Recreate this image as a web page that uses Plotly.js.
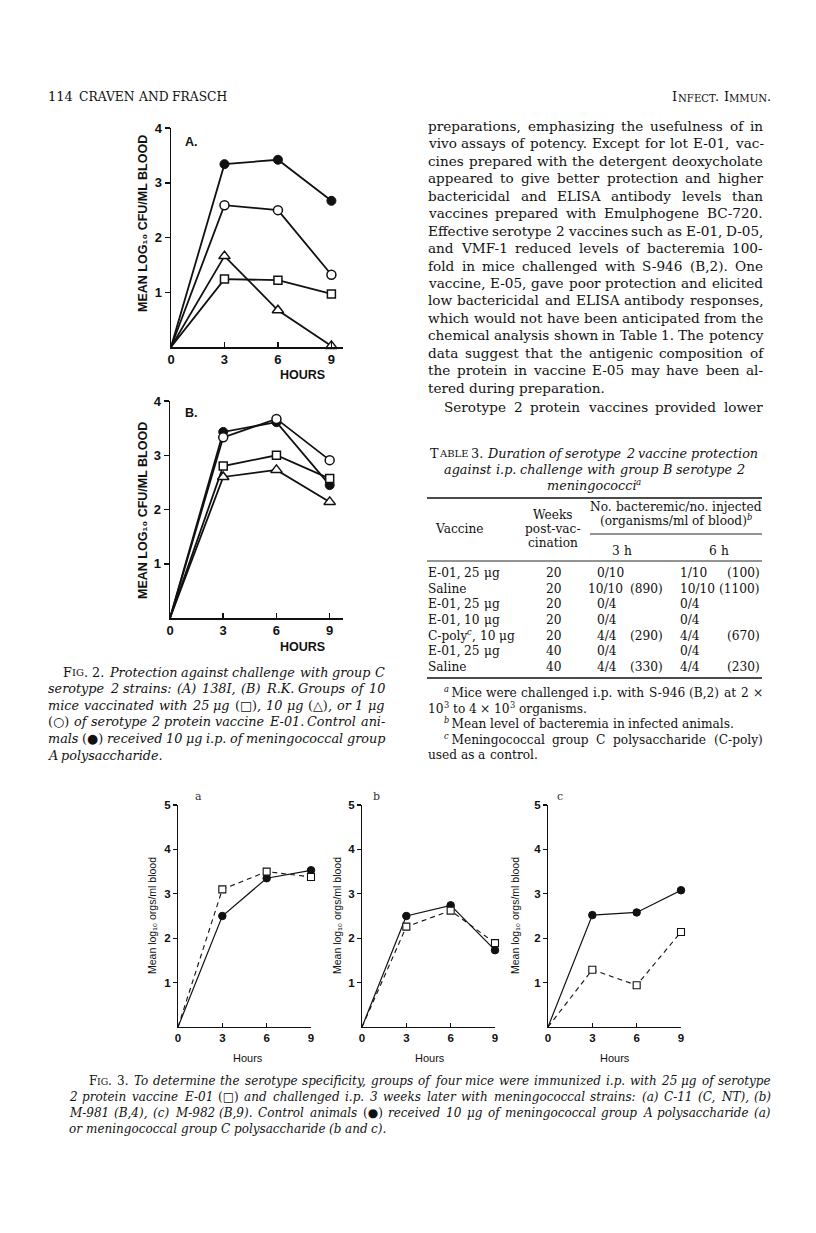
<!DOCTYPE html>
<html><head><meta charset="utf-8">
<script src="https://cdn.plot.ly/plotly-3.0.1.min.js"></script>
<style>html,body{margin:0;padding:0;background:#fff}#page{width:816px;height:1233px}</style>
</head><body><div id="page"></div>
<script>
// ---------------- DATA ----------------
const hours = [0, 3, 6, 9];
const hourTicks = [0, 3, 6, 9];
const fig2yTicks = [1, 2, 3, 4];
const fig3yTicks = [1, 2, 3, 4, 5];

// Fig. 2A (strain 138I)
const fig2aControl = [0, 3.34, 3.42, 2.67];
const fig2a1ug = [0, 2.59, 2.50, 1.32];
const fig2a10ug = [0, 1.66, 0.67, 0.02];
const fig2a25ug = [0, 1.24, 1.22, 0.97];
// Fig. 2B (strain R.K.)
const fig2bControl = [0, 3.43, 3.61, 2.45];
const fig2b1ug = [0, 3.33, 3.67, 2.91];
const fig2b10ug = [0, 2.60, 2.73, 2.14];
const fig2b25ug = [0, 2.80, 3.00, 2.57];
// Fig. 3
const fig3aControl = [0, 2.50, 3.35, 3.53];
const fig3aVaccine = [0, 3.10, 3.50, 3.38];
const fig3bControl = [0, 2.50, 2.74, 1.73];
const fig3bVaccine = [0, 2.26, 2.62, 1.89];
const fig3cControl = [0, 2.52, 2.58, 3.08];
const fig3cVaccine = [0, 1.29, 0.94, 2.14];

// Table 3
const tblVaccine = ["E-01, 25 μg", "Saline", "E-01, 25 μg", "E-01, 10 μg", "C-poly`{c}`, 10 μg", "E-01, 25 μg", "Saline"];
const tblWeeks = ["20", "20", "20", "20", "20", "40", "40"];
const tbl3hCount = ["0/10", "10/10", "0/4", "0/4", "4/4", "0/4", "4/4"];
const tbl3hLevel = ["", "(890)", "", "", "(290)", "", "(330)"];
const tbl6hCount = ["1/10", "10/10", "0/4", "0/4", "4/4", "0/4", "4/4"];
const tbl6hLevel = ["(100)", "(1100)", "", "", "(670)", "", "(230)"];

// Text
const bodyLines = [
  "preparations, emphasizing the usefulness of in",
  "vivo assays of potency. Except for lot E-01, vac-",
  "cines prepared with the detergent deoxycholate",
  "appeared to give better protection and higher",
  "bactericidal and ELISA antibody levels than",
  "vaccines prepared with Emulphogene BC-720.",
  "Effective serotype 2 vaccines such as E-01, D-05,",
  "and VMF-1 reduced levels of bacteremia 100-",
  "fold in mice challenged with S-946 (B,2). One",
  "vaccine, E-05, gave poor protection and elicited",
  "low bactericidal and ELISA antibody responses,",
  "which would not have been anticipated from the",
  "chemical analysis shown in Table 1. The potency",
  "data suggest that the antigenic composition of",
  "the protein in vaccine E-05 may have been al-",
  "tered during preparation."
];
const bodyNext = "Serotype 2 protein vaccines provided lower";

const fig2Caption = [
  "{F[IG]. 2.} Protection against challenge with group C",
  "serotype 2 strains: (A) 138I, (B) R.K. Groups of 10",
  "mice vaccinated with 25 μg {(□)}, 10 μg {(△)}, or 1 μg",
  "{(○)} of serotype 2 protein vaccine E-01. Control ani-",
  "mals {(●)} received 10 μg i.p. of meningococcal group",
  "A polysaccharide."
];
const fig3Caption = [
  "{F[IG]. 3.} To determine the serotype specificity, groups of four mice were immunized i.p. with 25 μg of serotype",
  "2 protein vaccine E-01 {(□)} and challenged i.p. 3 weeks later with meningococcal strains: (a) C-11 (C, NT), (b)",
  "M-981 (B,4), (c) M-982 (B,9). Control animals {(●)} received 10 μg of meningococcal group A polysaccharide (a)",
  "or meningococcal group C polysaccharide (b and c)."
];
const tableTitle = [
  "{T[ABLE] 3.} Duration of serotype 2 vaccine protection",
  "against i.p. challenge with group B serotype 2",
  "meningococci`a`"
];
const tableNotes = [
  "`{a}`\u2009Mice were challenged i.p. with S-946 (B,2) at 2 ×",
  "10`3` to 4 × 10`3` organisms.",
  "`{b}`\u2009Mean level of bacteremia in infected animals.",
  "`{c}`\u2009Meningococcal group C polysaccharide (C-poly)",
  "used as a control."
];

// ---------------- HELPERS ----------------
const W = 816, H = 1233;
const px = x => x / W, py = y => 1 - y / H;
const SERIF = "DejaVu Serif";
const SANS = "Liberation Sans, Arial, sans-serif";
const INK = "#111";
const canvas = document.createElement('canvas');
const ctx = canvas.getContext('2d');
function meas(t, f) { ctx.font = f; return ctx.measureText(t).width; }
function fontStr(it, size) { return (it ? 'italic ' : '') + size.toFixed(2) + 'px "' + SERIF + '"'; }

const annotations = [];
const shapes = [];

// mini markup: {..} opposite style, [..] small caps, `..` superscript
function parseLine(str, baseItalic) {
  const words = []; let cur = []; let seg = null;
  let opp = false, small = false, sup = false;
  const flush = () => { if (seg && seg.t.length) cur.push(seg); seg = null; };
  for (const ch of str) {
    if (ch === '{') { flush(); opp = true; continue; }
    if (ch === '}') { flush(); opp = false; continue; }
    if (ch === '[') { flush(); small = true; continue; }
    if (ch === ']') { flush(); small = false; continue; }
    if (ch === '`') { flush(); sup = !sup; continue; }
    if (ch === ' ') { flush(); if (cur.length) words.push(cur); cur = []; continue; }
    if (!seg) seg = { t: '', it: baseItalic !== opp, small, sup };
    seg.t += ch;
  }
  flush(); if (cur.length) words.push(cur);
  return words;
}
const segSize = (g, size) => g.sup ? size * 0.68 : (g.small ? size * 0.78 : size);
const segWidth = (g, size) => meas(g.t, fontStr(g.it, segSize(g, size)));
function wordWidth(w, size) { return w.reduce((s, g) => s + segWidth(g, size), 0); }
function pushSeg(g, x, y, size) {
  const s = segSize(g, size);
  let ys = -0.35 * (size - s);
  if (g.sup) ys += 0.42 * size;
  annotations.push({ xref: 'paper', yref: 'paper', x: px(x), y: py(y), xanchor: 'left', yanchor: 'middle', yshift: ys,
    showarrow: false, borderpad: 0, text: g.t,
    font: { family: SERIF, size: s, color: INK, style: g.it ? 'italic' : 'normal' } });
}
function renderLine(str, o) {
  const words = parseLine(str, o.italic);
  const ws = words.map(w => wordWidth(w, o.size));
  const tot = ws.reduce((a, b) => a + b, 0);
  const sp = meas(' ', fontStr(o.italic, o.size));
  let gap = sp, x;
  const full = tot + sp * (words.length - 1);
  if (o.align === 'justify' && words.length > 1) { gap = (o.right - o.left - tot) / (words.length - 1); x = o.left; }
  else if (o.align === 'center') x = o.center - full / 2;
  else if (o.align === 'right') x = o.right - full;
  else x = o.left;
  words.forEach((w, i) => {
    let xx = x;
    w.forEach(g => { pushSeg(g, xx, o.y, o.size); xx += segWidth(g, o.size); });
    x += ws[i] + gap;
  });
}
function fitSize(specs, base, italic) {
  let r = 1;
  specs.forEach(s => {
    if (s.align !== 'justify') return;
    const words = parseLine(s.t, italic);
    const tot = words.reduce((a, w) => a + wordWidth(w, base), 0);
    const need = tot + 0.22 * base * (words.length - 1);
    r = Math.max(r, need / (s.right - s.left));
  });
  return base / r;
}
function paragraph(lines, o) {
  const specs = lines.map((t, i) => ({
    t, left: o.left + (i === 0 ? (o.indent || 0) : 0), right: o.right,
    align: (i === lines.length - 1 && !o.justifyLast) ? 'left' : 'justify', y: o.y0 + o.dy * i
  }));
  const size = fitSize(specs, o.size, o.italic);
  specs.forEach(s => renderLine(s.t, { left: s.left, right: s.right, y: s.y, size, italic: o.italic, align: s.align }));
}
function ann(x, y, text, opt) {
  return Object.assign({ xref: 'paper', yref: 'paper', x: px(x), y: py(y), text, showarrow: false,
    xanchor: 'center', yanchor: 'middle', font: { family: SANS, size: 12, color: INK } }, opt || {});
}
function hline(x0, x1, y, w) {
  shapes.push({ type: 'line', xref: 'paper', yref: 'paper', x0: px(x0), x1: px(x1), y0: py(y), y1: py(y), line: { color: INK, width: w } });
}

// ---------------- PAGE TEXT ----------------
renderLine("114", { left: 47, y: 97, size: 13, italic: false, align: 'left' });
renderLine("CRAVEN AND FRASCH", { left: 78, y: 97, size: 12.3, italic: false, align: 'left' });
renderLine("I[NFECT]. I[MMUN].", { right: 770, y: 97, size: 13, italic: false, align: 'right' });

paragraph(bodyLines, { left: 427, right: 762, y0: 126, dy: 17.45, size: 13.6, italic: false });
paragraph([bodyNext], { left: 443, right: 762, y0: 406.5, dy: 17.45, size: 13.6, italic: false, justifyLast: true });

paragraph(fig2Caption, { left: 47, right: 384, indent: 15, y0: 672, dy: 16.6, size: 12.8, italic: true });
paragraph(fig3Caption, { left: 68, right: 770, indent: 20, y0: 1081, dy: 16, size: 12, italic: true });

// Table 3
tableTitle.forEach((t, i) => renderLine(t, { center: 593, y: 453 + 16.5 * i, size: 12.8, italic: true, align: 'center' }));
hline(427, 762, 498, 1.6);
renderLine("Vaccine", { center: 458, y: 529, size: 12.2, italic: false, align: 'center' });
["Weeks", "post-vac-", "cination"].forEach((t, i) => renderLine(t, { center: 552, y: 515 + 14 * i, size: 12.2, italic: false, align: 'center' }));
renderLine("No. bacteremic/no. injected", { center: 675, y: 507, size: 12.2, italic: false, align: 'center' });
renderLine("(organisms/ml of blood)`{b}`", { center: 675, y: 521, size: 12.2, italic: false, align: 'center' });
hline(590, 762, 534, 0.9);
renderLine("3 h", { center: 621, y: 551, size: 12.2, italic: false, align: 'center' });
renderLine("6 h", { center: 718, y: 551, size: 12.2, italic: false, align: 'center' });
hline(427, 762, 561, 0.9);
tblVaccine.forEach((v, i) => {
  const y = 573 + 15.65 * i;
  renderLine(v, { left: 427, y, size: 12.2, italic: false, align: 'left' });
  renderLine(tblWeeks[i], { center: 553, y, size: 12.2, italic: false, align: 'center' });
  renderLine(tbl3hCount[i], { left: tbl3hCount[i].length > 4 ? 587 : 596, y, size: 12.2, italic: false, align: 'left' });
  if (tbl3hLevel[i]) renderLine(tbl3hLevel[i], { right: 662, y, size: 12.2, italic: false, align: 'right' });
  renderLine(tbl6hCount[i], { left: 679, y, size: 12.2, italic: false, align: 'left' });
  if (tbl6hLevel[i]) renderLine(tbl6hLevel[i], { right: 759, y, size: 12.2, italic: false, align: 'right' });
});
hline(427, 762, 678, 1.6);
const noteSpec = [
  { left: 443, align: 'justify' }, { left: 427, align: 'left' }, { left: 443, align: 'left' },
  { left: 443, align: 'justify' }, { left: 427, align: 'left' }
];
tableNotes.forEach((t, i) => renderLine(t, { left: noteSpec[i].left, right: 762, y: 693 + 15.6 * i, size: 12.2, italic: false, align: noteSpec[i].align }));

// ---------------- CHART LABELS ----------------
const boldSans = (s) => ({ family: SANS, size: s, color: INK, weight: 'bold' });
annotations.push(ann(143, 224, 'MEAN LOG\u2081\u2080 CFU/ML BLOOD', { textangle: -90, font: boldSans(12.5) }));
annotations.push(ann(143, 511, 'MEAN LOG\u2081\u2080 CFU/ML BLOOD', { textangle: -90, font: boldSans(12.5) }));
annotations.push(ann(302, 375, 'HOURS', { font: boldSans(12.5) }));
annotations.push(ann(302, 647, 'HOURS', { font: boldSans(12.5) }));
annotations.push(ann(183, 142, 'A.', { xanchor: 'left', font: boldSans(12.5) }));
annotations.push(ann(183, 413, 'B.', { xanchor: 'left', font: boldSans(12.5) }));
[[152, 248, 198, 'a'], [337, 430, 376, 'b'], [515, 615, 560, 'c']].forEach(([yx, hx, lx, l]) => {
  annotations.push(ann(yx, 916, 'Mean log\u2081\u2080 orgs/ml blood', { textangle: -90, font: { family: SANS, size: 10.5, color: INK } }));
  annotations.push(ann(hx, 1058, 'Hours', { font: { family: SANS, size: 11, color: INK } }));
  annotations.push(ann(lx, 797, l, { font: { family: SERIF, size: 11, color: '#333' } }));
});

// ---------------- AXES ----------------
function axis(dom, range, tickvals, ticks, len, tickSize, lw) {
  return { domain: dom, range, showgrid: false, zeroline: false, showline: true, linecolor: INK, linewidth: lw,
    ticks, ticklen: len, tickwidth: lw, tickcolor: INK, tickmode: 'array', tickvals, ticktext: tickvals.map(String),
    tickfont: boldSans(tickSize), fixedrange: true };
}
const layout = {
  width: W, height: H, margin: { l: 0, r: 0, t: 0, b: 0 }, paper_bgcolor: '#fff', plot_bgcolor: 'rgba(0,0,0,0)',
  showlegend: false, annotations, shapes, font: { family: SANS, color: INK },
  xaxis: Object.assign(axis([px(171), px(343)], [0, 9.65], hourTicks, 'inside', 5, 13, 1.5), { anchor: 'y' }),
  yaxis: Object.assign(axis([py(347), py(128)], [0, 4], fig2yTicks, 'outside', 5, 13, 1.5), { anchor: 'x' }),
  xaxis2: Object.assign(axis([px(170), px(343)], [0, 9.75], hourTicks, 'inside', 5, 13, 1.5), { anchor: 'y2' }),
  yaxis2: Object.assign(axis([py(618), py(401)], [0, 4], fig2yTicks, 'outside', 5, 13, 1.5), { anchor: 'x2' }),
  xaxis3: Object.assign(axis([px(178), px(311)], [0, 9], hourTicks, 'inside', 4, 11.5, 1.1), { anchor: 'y3' }),
  yaxis3: Object.assign(axis([py(1027), py(805)], [0, 5], fig3yTicks, 'outside', 4, 11.5, 1.1), { anchor: 'x3' }),
  xaxis4: Object.assign(axis([px(362), px(495)], [0, 9], hourTicks, 'inside', 4, 11.5, 1.1), { anchor: 'y4' }),
  yaxis4: Object.assign(axis([py(1027), py(805)], [0, 5], fig3yTicks, 'outside', 4, 11.5, 1.1), { anchor: 'x4' }),
  xaxis5: Object.assign(axis([px(548), px(681)], [0, 9], hourTicks, 'inside', 4, 11.5, 1.1), { anchor: 'y5' }),
  yaxis5: Object.assign(axis([py(1027), py(805)], [0, 5], fig3yTicks, 'outside', 4, 11.5, 1.1), { anchor: 'x5' })
};

// ---------------- TRACES ----------------
const lineTraces = [], markerTraces = [];
function series(vals, xa, ya, sym, fill, msize, lw, dash, mlw) {
  lineTraces.push({ x: hours, y: vals, xaxis: xa, yaxis: ya, mode: 'lines', cliponaxis: false, hoverinfo: 'skip',
    line: { color: INK, width: lw, dash: dash || 'solid' } });
  markerTraces.push({ x: hours.slice(1), y: vals.slice(1), xaxis: xa, yaxis: ya, mode: 'markers', cliponaxis: false, hoverinfo: 'skip',
    marker: { symbol: sym, size: msize, color: fill, line: { color: INK, width: mlw } } });
}
series(fig2aControl, 'x', 'y', 'circle', INK, 9, 1.8, null, 1);
series(fig2a1ug, 'x', 'y', 'circle', '#fff', 9, 1.8, null, 1.5);
series(fig2a10ug, 'x', 'y', 'triangle-up', '#fff', 10, 1.8, null, 1.5);
series(fig2a25ug, 'x', 'y', 'square', '#fff', 8, 1.8, null, 1.5);
series(fig2bControl, 'x2', 'y2', 'circle', INK, 9, 1.8, null, 1);
series(fig2b1ug, 'x2', 'y2', 'circle', '#fff', 9, 1.8, null, 1.5);
series(fig2b10ug, 'x2', 'y2', 'triangle-up', '#fff', 10, 1.8, null, 1.5);
series(fig2b25ug, 'x2', 'y2', 'square', '#fff', 8, 1.8, null, 1.5);
[[fig3aControl, fig3aVaccine, 'x3', 'y3'], [fig3bControl, fig3bVaccine, 'x4', 'y4'], [fig3cControl, fig3cVaccine, 'x5', 'y5']].forEach(([c, v, xa, ya]) => {
  series(c, xa, ya, 'circle', INK, 7.5, 1.2, null, 1);
  series(v, xa, ya, 'square', '#fff', 7, 1.1, '5px,4px', 1.1);
});

Plotly.newPlot('page', lineTraces.concat(markerTraces), layout, { staticPlot: true, displayModeBar: false });
</script>
</body></html>
